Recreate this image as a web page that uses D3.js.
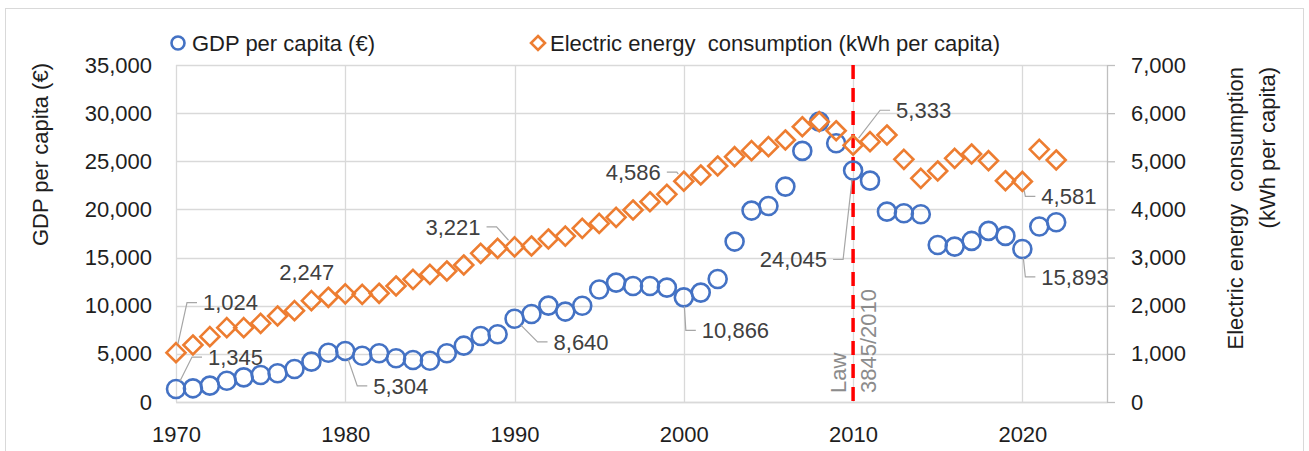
<!DOCTYPE html>
<html>
<head>
<meta charset="utf-8">
<script src="https://cdn.jsdelivr.net/npm/d3@7"></script>
<style>
  body { margin: 0; background: #fff; }
  svg { display: block; font-family: "Liberation Sans", Arial, sans-serif; }
</style>
</head>
<body>
<div id="chart"></div>
<script>
// ---------------- data ----------------
const years = [1970, 1971, 1972, 1973, 1974, 1975, 1976, 1977, 1978, 1979,
  1980, 1981, 1982, 1983, 1984, 1985, 1986, 1987, 1988, 1989,
  1990, 1991, 1992, 1993, 1994, 1995, 1996, 1997, 1998, 1999,
  2000, 2001, 2002, 2003, 2004, 2005, 2006, 2007, 2008, 2009,
  2010, 2011, 2012, 2013, 2014, 2015, 2016, 2017, 2018, 2019,
  2020, 2021, 2022];

// GDP per capita (€)
const gdp = [1345, 1420, 1700, 2210, 2560, 2800, 2980, 3430, 4190, 5120,
  5304, 4810, 5060, 4540, 4360, 4290, 5060, 5850, 6860, 7030,
  8640, 9140, 10010, 9390, 10000, 11680, 12400, 12050, 12050, 11880,
  10866, 11360, 12780, 16660, 19880, 20360, 22370, 26080, 29120, 26880,
  24045, 22990, 19770, 19600, 19500, 16310, 16140, 16730, 17770, 17250,
  15893, 18220, 18670];

// Electric energy consumption (kWh per capita)
const elec = [1024, 1184, 1357, 1544, 1544, 1634, 1786, 1897, 2105, 2175,
  2247, 2237, 2258, 2409, 2548, 2652, 2721, 2845, 3088, 3192,
  3221, 3240, 3385, 3447, 3607, 3710, 3835, 3988, 4160, 4313,
  4586, 4715, 4902, 5095, 5220, 5303, 5442, 5718, 5822, 5635,
  5333, 5407, 5546, 5041, 4646, 4798, 5062, 5151, 5012, 4596,
  4581, 5249, 5027];

const xTicks = [1970, 1980, 1990, 2000, 2010, 2020];
const leftTicks = [0, 5000, 10000, 15000, 20000, 25000, 30000, 35000];
const rightTicks = [0, 1000, 2000, 3000, 4000, 5000, 6000, 7000];

const lawYear = 2010;

// labelled points: which series, which year, where the label sits
const annotations = [
  { s: 'elec', year: 1970, dx: 27, dy: -50, anchor: 'start', leader: true },
  { s: 'gdp', year: 1970, dx: 32, dy: -32, anchor: 'start', leader: true },
  { s: 'elec', year: 1980, dx: -66, dy: -22, anchor: 'start', leader: false },
  { s: 'elec', year: 1990, dx: -34, dy: -20, anchor: 'end', leader: true },
  { s: 'gdp', year: 1980, dx: 28, dy: 35, anchor: 'start', leader: true },
  { s: 'gdp', year: 1990, dx: 39, dy: 23, anchor: 'start', leader: true },
  { s: 'elec', year: 2000, dx: -23, dy: -9, anchor: 'end', leader: true },
  { s: 'gdp', year: 2000, dx: 18, dy: 33, anchor: 'start', leader: true },
  { s: 'gdp', year: 2010, dx: -26, dy: 89, anchor: 'end', leader: true },
  { s: 'elec', year: 2010, dx: 43, dy: -35, anchor: 'start', leader: true },
  { s: 'elec', year: 2020, dx: 19, dy: 15, anchor: 'start', leader: true },
  { s: 'gdp', year: 2020, dx: 19, dy: 28, anchor: 'start', leader: true }
];

// ---------------- layout ----------------
const W = 1309, H = 451;
const plot = { left: 176, right: 1107, top: 65, bottom: 402 };
const BLUE = '#4472C4', ORANGE = '#ED7D31', GRID = '#d9d9d9';
const FS = 22;

const svg = d3.select('#chart').append('svg')
  .attr('width', W).attr('height', H);

// outer frame
svg.append('rect')
  .attr('x', 5.5).attr('y', 8.5).attr('width', 1298).attr('height', 460)
  .attr('fill', '#fff').attr('stroke', GRID).attr('stroke-width', 1);

const x = d3.scaleLinear().domain([1970, 2025]).range([plot.left, plot.right]);
const yL = d3.scaleLinear().domain([0, 35000]).range([plot.bottom, plot.top]);
const yR = d3.scaleLinear().domain([0, 7000]).range([plot.bottom, plot.top]);
const fmt = d3.format(',');

// gridlines
svg.append('g').selectAll('line.h')
  .data(leftTicks).join('line')
  .attr('x1', plot.left).attr('x2', plot.right)
  .attr('y1', d => Math.round(yL(d)) + 0.5).attr('y2', d => Math.round(yL(d)) + 0.5)
  .attr('stroke', GRID).attr('stroke-width', 1.3);

svg.append('g').selectAll('line.v')
  .data(xTicks).join('line')
  .attr('x1', d => Math.round(x(d)) + 0.5).attr('x2', d => Math.round(x(d)) + 0.5)
  .attr('y1', plot.top).attr('y2', plot.bottom)
  .attr('stroke', GRID).attr('stroke-width', 1.3);

// bottom axis
const xAxis = svg.append('g')
  .attr('transform', `translate(0,${plot.bottom})`)
  .call(d3.axisBottom(x).tickValues(xTicks).tickFormat(d3.format('d')).tickSize(0).tickPadding(24));
xAxis.select('.domain').attr('stroke', GRID).attr('stroke-width', 1.5);
xAxis.selectAll('text').attr('font-size', FS).attr('fill', '#1e1e1e').attr('font-family', null);

// left axis (labels only)
const leftAxis = svg.append('g')
  .attr('transform', `translate(${plot.left},0)`)
  .call(d3.axisLeft(yL).tickValues(leftTicks).tickFormat(fmt).tickSize(0).tickPadding(24));
leftAxis.select('.domain').remove();
leftAxis.selectAll('text').attr('font-size', FS).attr('fill', '#1e1e1e').attr('font-family', null);

// right axis
const rightAxis = svg.append('g')
  .attr('transform', `translate(${plot.right},0)`)
  .call(d3.axisRight(yR).tickValues(rightTicks).tickFormat(fmt).tickSize(8).tickSizeOuter(0).tickPadding(16));
rightAxis.select('.domain').attr('stroke', '#bfbfbf').attr('stroke-width', 1.3);
rightAxis.selectAll('.tick line').attr('stroke', '#bfbfbf').attr('stroke-width', 1.3);
rightAxis.selectAll('text').attr('font-size', FS).attr('fill', '#1e1e1e').attr('font-family', null);

// axis titles
svg.append('text')
  .attr('transform', `translate(48,${plot.top - 2}) rotate(-90)`)
  .attr('text-anchor', 'end')
  .attr('font-size', FS).attr('fill', '#1e1e1e')
  .text('GDP per capita (€)');

const rTitle = svg.append('text')
  .attr('transform', `translate(1243,${plot.top + 2}) rotate(-90)`)
  .attr('text-anchor', 'end')
  .attr('font-size', FS).attr('fill', '#1e1e1e')
  .attr('xml:space', 'preserve');
rTitle.append('tspan').attr('x', 0).attr('y', 0).text('Electric energy  consumption');
rTitle.append('tspan').attr('x', 0).attr('y', 32).text('(kWh per capita)');

// law marker
svg.append('line')
  .attr('x1', x(lawYear)).attr('x2', x(lawYear))
  .attr('y1', plot.top).attr('y2', plot.bottom)
  .attr('stroke', '#ff0000').attr('stroke-width', 3.5)
  .attr('stroke-dasharray', '14,9');

const lawText = svg.append('text')
  .attr('transform', `translate(${x(lawYear)},${plot.bottom - 9}) rotate(-90)`)
  .attr('text-anchor', 'start')
  .attr('font-size', FS).attr('fill', '#8c8c8c');
lawText.append('tspan').attr('x', 0).attr('y', -7).text('Law');
lawText.append('tspan').attr('x', 0).attr('y', 23).text('3845/2010');

// series
const gdpPts = years.map((yr, i) => ({ year: yr, v: gdp[i] }));
const elecPts = years.map((yr, i) => ({ year: yr, v: elec[i] }));

svg.append('g').selectAll('circle')
  .data(gdpPts).join('circle')
  .attr('cx', d => x(d.year)).attr('cy', d => yL(d.v))
  .attr('r', 9)
  .attr('fill', 'none').attr('stroke', BLUE).attr('stroke-width', 2.6);

const diamond = r => `M0,${-r}L${r},0L0,${r}L${-r},0Z`;
svg.append('g').selectAll('path')
  .data(elecPts).join('path')
  .attr('transform', d => `translate(${x(d.year)},${yR(d.v)})`)
  .attr('d', diamond(9.5))
  .attr('fill', 'none').attr('stroke', ORANGE).attr('stroke-width', 2.6)
  .attr('stroke-linejoin', 'miter');

// data labels with leader lines
const annG = svg.append('g');
annotations.forEach(a => {
  const i = years.indexOf(a.year);
  const v = a.s === 'gdp' ? gdp[i] : elec[i];
  const px = x(a.year);
  const py = a.s === 'gdp' ? yL(v) : yR(v);
  const lx = px + a.dx, ly = py + a.dy;
  if (a.leader) {
    const sgn = a.anchor === 'start' ? -1 : 1;
    const endX = lx + sgn * 6;
    const elbowX = lx + sgn * 16;
    const ddx = elbowX - px, ddy = ly - py;
    const len = Math.hypot(ddx, ddy);
    const sx = px + ddx / len * 9, sy = py + ddy / len * 9;
    annG.append('path')
      .attr('d', `M${sx},${sy}L${elbowX},${ly}L${endX},${ly}`)
      .attr('fill', 'none').attr('stroke', '#a6a6a6').attr('stroke-width', 1.2);
  }
  annG.append('text')
    .attr('x', lx).attr('y', ly)
    .attr('dy', '0.35em')
    .attr('text-anchor', a.anchor)
    .attr('font-size', FS).attr('fill', '#404040')
    .text(fmt(v));
});

// legend
const legend = svg.append('g');
legend.append('circle')
  .attr('cx', 178).attr('cy', 43).attr('r', 6.5)
  .attr('fill', 'none').attr('stroke', BLUE).attr('stroke-width', 2.6);
legend.append('text')
  .attr('x', 192).attr('y', 43).attr('dy', '0.35em')
  .attr('font-size', FS).attr('fill', '#1e1e1e')
  .text('GDP per capita (€)');
legend.append('path')
  .attr('transform', 'translate(538,43)')
  .attr('d', diamond(7))
  .attr('fill', 'none').attr('stroke', ORANGE).attr('stroke-width', 2.6);
legend.append('text')
  .attr('x', 550).attr('y', 43).attr('dy', '0.35em')
  .attr('font-size', FS).attr('fill', '#1e1e1e')
  .attr('xml:space', 'preserve')
  .text('Electric energy  consumption (kWh per capita)');
</script>
</body>
</html>
